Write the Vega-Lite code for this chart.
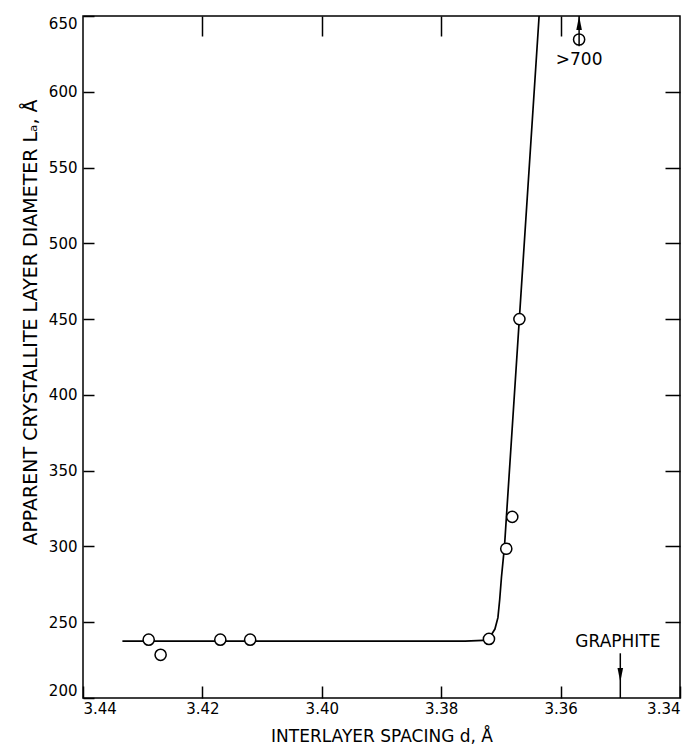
{
  "$schema": "https://vega.github.io/schema/vega-lite/v6.json",
  "width": 597,
  "height": 682,
  "autosize": "none",
  "padding": {"left": 83, "top": 16, "right": 2, "bottom": 50},
  "background": "white",
  "config": {
    "view": {"stroke": "black", "strokeWidth": 1.5},
    "axis": {
      "labelFont": "DejaVu Sans",
      "titleFont": "DejaVu Sans",
      "labelColor": "black",
      "titleColor": "black",
      "tickColor": "black",
      "domain": false,
      "grid": false,
      "titleFontWeight": "normal"
    },
    "text": {"font": "DejaVu Sans"}
  },
  "datasets": {
    "curve": [
      {"d": 3.4334, "La": 237.5},
      {"d": 3.3760, "La": 237.5},
      {"d": 3.3730, "La": 238.0},
      {"d": 3.3718, "La": 240.5},
      {"d": 3.3710, "La": 245.5},
      {"d": 3.3705, "La": 253},
      {"d": 3.3702, "La": 265},
      {"d": 3.3699, "La": 280},
      {"d": 3.3694, "La": 300},
      {"d": 3.3636, "La": 650}
    ],
    "pts": [
      {"d": 3.429, "La": 238.5},
      {"d": 3.427, "La": 228.5},
      {"d": 3.417, "La": 238.5},
      {"d": 3.412, "La": 238.5},
      {"d": 3.372, "La": 239},
      {"d": 3.3691, "La": 298.5},
      {"d": 3.3681, "La": 319.5},
      {"d": 3.3669, "La": 450},
      {"d": 3.3569, "La": 634.5}
    ],
    "arrows": [
      {"d": 3.3569, "y1": 630, "y2": 650},
      {"d": 3.35, "y1": 229.5, "y2": 200}
    ],
    "heads": [
      {"d": 3.3569, "La": 645.4, "dir": "up"},
      {"d": 3.35, "La": 215.2, "dir": "down"}
    ],
    "labels": [
      {"d": 3.3569, "La": 621, "text": ">700"},
      {"d": 3.3504, "La": 237, "text": "GRAPHITE"}
    ]
  },
  "resolve": {"axis": {"x": "independent", "y": "independent"}},
  "layer": [
    {
      "data": {"name": "curve"},
      "mark": {"type": "line", "color": "black", "strokeWidth": 1.7},
      "encoding": {
        "x": {
          "field": "d", "type": "quantitative",
          "scale": {"domain": [3.34, 3.44], "reverse": true, "zero": false, "nice": false},
          "axis": {
            "orient": "bottom",
            "values": [3.44, 3.42, 3.40, 3.38, 3.36, 3.34],
            "format": ".2f",
            "labelFlush": true,
            "labelFontSize": 15,
            "tickSize": -12,
            "tickWidth": 1.5,
            "labelPadding": 15,
            "title": "INTERLAYER SPACING d, Å",
            "titleFontSize": 17,
            "titleY": 38,
            "titleBaseline": "middle"
          }
        },
        "y": {
          "field": "La", "type": "quantitative",
          "scale": {"domain": [200, 650], "zero": false, "nice": false},
          "axis": {
            "orient": "left",
            "values": [200, 250, 300, 350, 400, 450, 500, 550, 600, 650],
            "labelFlush": true,
            "labelFontSize": 15,
            "tickSize": -11,
            "tickWidth": 1.5,
            "labelPadding": 17,
            "title": "APPARENT CRYSTALLITE LAYER DIAMETER Lₐ, Å",
            "titleFontSize": 19,
            "titleX": -53,
            "titleY": 306,
            "titleBaseline": "middle",
            "titleAngle": -90
          }
        }
      }
    },
    {
      "data": {"name": "pts"},
      "mark": {"type": "point", "shape": "circle", "filled": false, "fill": "white", "fillOpacity": 1, "stroke": "black", "strokeWidth": 1.5, "size": 125, "opacity": 1},
      "encoding": {
        "x": {
          "field": "d", "type": "quantitative",
          "axis": {
            "orient": "top",
            "values": [3.42, 3.40, 3.38, 3.36],
            "labels": false,
            "tickSize": -20,
            "tickWidth": 1.5,
            "title": null
          }
        },
        "y": {
          "field": "La", "type": "quantitative",
          "axis": {
            "orient": "right",
            "values": [250, 300, 350, 400, 450, 500, 550, 600],
            "labels": false,
            "tickSize": -15,
            "tickWidth": 1.5,
            "title": null
          }
        }
      }
    },
    {
      "data": {"name": "arrows"},
      "mark": {"type": "rule", "color": "black", "strokeWidth": 1.5},
      "encoding": {
        "x": {"field": "d", "type": "quantitative", "axis": null},
        "y": {"field": "y1", "type": "quantitative", "axis": null},
        "y2": {"field": "y2"}
      }
    },
    {
      "data": {"name": "heads"},
      "mark": {"type": "point", "filled": true, "color": "black", "opacity": 1, "size": 196},
      "encoding": {
        "x": {"field": "d", "type": "quantitative", "axis": null},
        "y": {"field": "La", "type": "quantitative", "axis": null},
        "shape": {
          "field": "dir", "type": "nominal",
          "scale": {"domain": ["up", "down"], "range": ["M-0.4,1L0.4,1L0,-1Z", "M-0.4,-1L0.4,-1L0,1Z"]},
          "legend": null
        }
      }
    },
    {
      "data": {"name": "labels"},
      "mark": {"type": "text", "color": "black", "fontSize": 17, "align": "center", "baseline": "middle"},
      "encoding": {
        "x": {"field": "d", "type": "quantitative", "axis": null},
        "y": {"field": "La", "type": "quantitative", "axis": null},
        "text": {"field": "text"}
      }
    }
  ]
}
